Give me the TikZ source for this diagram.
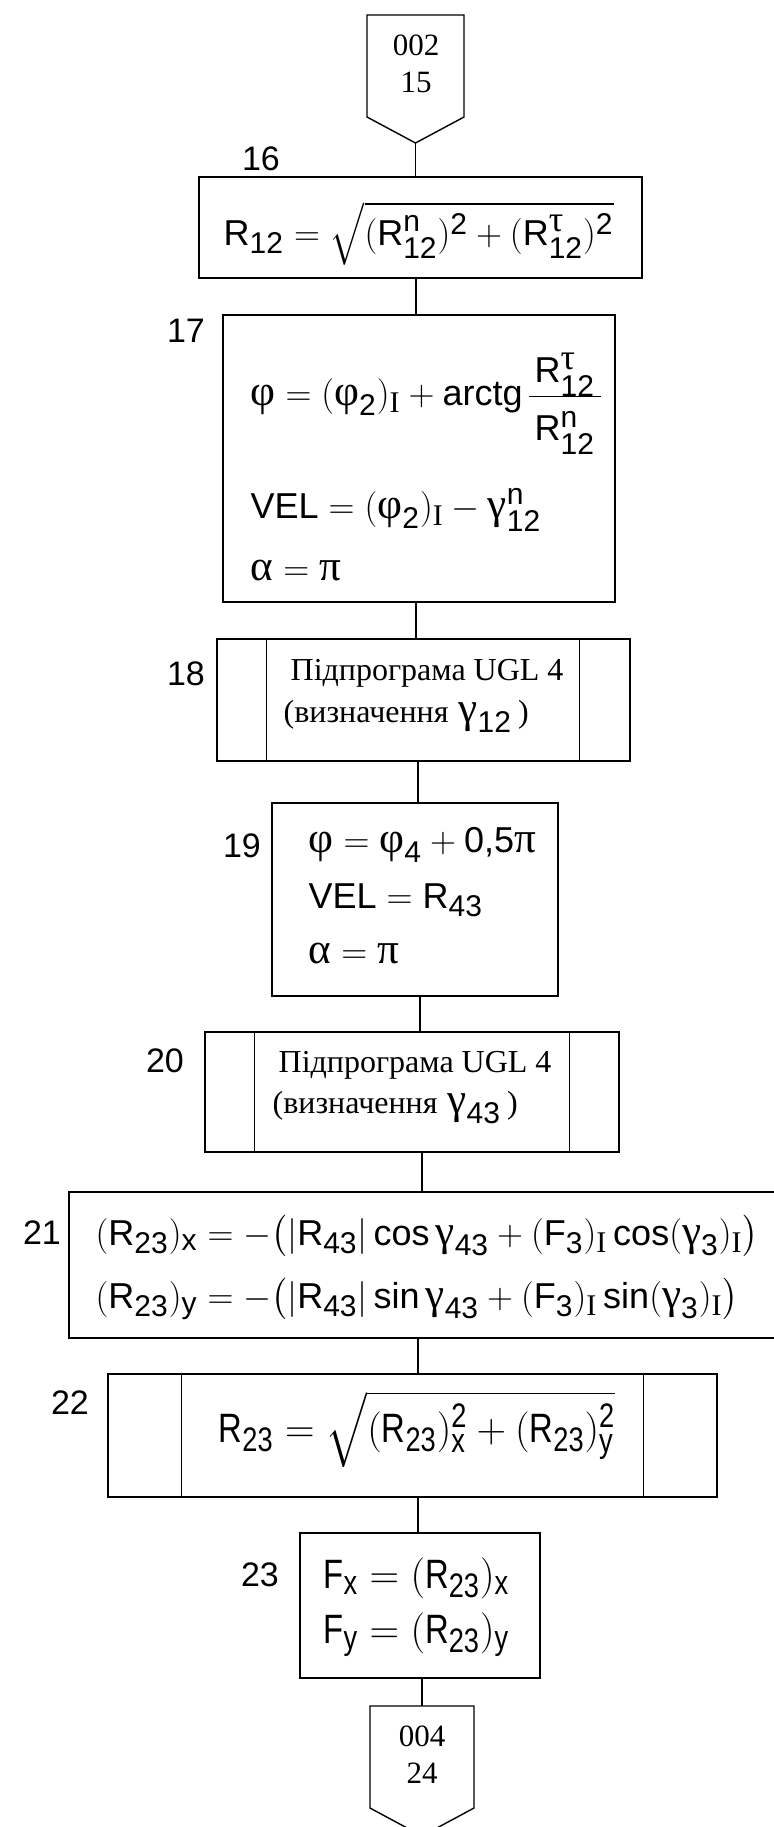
\RequirePackage{fix-cm}
\documentclass[tikz,border=0pt]{standalone}
\usepackage{amsmath}
\usepackage{fontspec}
\setmainfont{Liberation Sans}
\newfontfamily\tmfont{Liberation Serif}
\newfontfamily\grkfont{Liberation Serif}[Scale=1.2]
\newfontfamily\narrowfont{Liberation Sans}[FakeStretch=0.8]
\usetikzlibrary{calc}
\DeclareMathSizes{18}{18}{15}{12}
\DeclareMathSizes{20.5}{20.5}{17}{13.5}
\newcommand\fml{\fontsize{18}{22}\selectfont}
\newcommand\fmlbig{\fontsize{20.5}{24}\selectfont}
\newcommand\Ttx[1]{\text{#1}}
\newcommand\Grk[1]{\text{\grkfont #1}}
\newcommand\RmI{\text{\tmfont I}}
\newcommand\cyr{\tmfont\fontsize{16}{18}\selectfont}
\newcommand\lblfont{\fontsize{17}{20}\selectfont}
\newcommand\pfont{\tmfont\fontsize{15.5}{18.25}\selectfont}
\begin{document}
\begin{tikzpicture}[x=0.5pt,y=-0.5pt,line width=0.7pt,
  box/.style={draw,rectangle,inner sep=0pt,line width=0.7pt},
  lbl/.style={inner sep=0pt,font=\lblfont},
  txt/.style={anchor=base west,inner sep=0pt,font=\fml},
  ntxt/.style={anchor=base west,inner sep=0pt,font=\narrowfont\fmlbig},
  ptxt/.style={align=center,inner sep=0pt,font=\pfont}]
\useasboundingbox (0,0) rectangle (774,1827);
\clip (0,0) rectangle (774,1827);

% top off-page connector
\draw (367,15) -- (464,15) -- (464,117) -- (415.5,143) -- (367,117) -- cycle;
\coordinate (p1tip) at (415.5,143);
\node[ptxt] (p1) at (416,64) {002\\15};

% boxes
\node[box,minimum width=221.5pt,minimum height=50.5pt] (b16) at (420.5,227.5) {};
\node[box,minimum width=196pt,minimum height=143.5pt] (b17) at (419,458.5) {};
\node[box,minimum width=206.5pt,minimum height=61pt] (b18) at (423.5,700) {};
\node[box,minimum width=143pt,minimum height=96.5pt] (b19) at (415,899.5) {};
\node[box,minimum width=207pt,minimum height=60pt] (b20) at (412,1092) {};
\node[box,minimum width=365.5pt,minimum height=73pt] (b21) at (434.5,1265) {};
\node[box,minimum width=304.5pt,minimum height=61.5pt] (b22) at (412.5,1435.5) {};
\node[box,minimum width=120pt,minimum height=72.5pt] (b23) at (420,1605.5) {};

% subroutine side bars
\draw ($(b18.north west)+(50,0)$) -- ($(b18.south west)+(50,0)$);
\draw ($(b18.north east)+(-51,0)$) -- ($(b18.south east)+(-51,0)$);
\draw ($(b20.north west)+(50,0)$) -- ($(b20.south west)+(50,0)$);
\draw ($(b20.north east)+(-50,0)$) -- ($(b20.south east)+(-50,0)$);
\draw ($(b22.north west)+(74,0)$) -- ($(b22.south west)+(74,0)$);
\draw ($(b22.north east)+(-74,0)$) -- ($(b22.south east)+(-74,0)$);

% bottom off-page connector
\draw (370,1706) -- (474,1706) -- (474,1808) -- (422,1836) -- (370,1808) -- cycle;
\coordinate (p2top) at (422,1706);
\node[ptxt] (p2) at (422,1754.5) {004\\24};

% connectors
\draw (p1tip) -- (p1tip |- b16.north);
\draw (b16.south -| 416,0) -- (b17.north -| 416,0);
\draw (b17.south -| 416,0) -- (b18.north -| 416,0);
\draw (b18.south -| 418,0) -- (b19.north -| 418,0);
\draw (b19.south -| 420,0) -- (b20.north -| 420,0);
\draw (b20.south -| 422,0) -- (b21.north -| 422,0);
\draw (b21.south -| 418,0) -- (b22.north -| 418,0);
\draw (b22.south -| 418,0) -- (b23.north -| 418,0);
\draw (b23.south -| 422,0) -- (p2top);

% labels
\node[lbl] (l16) at (261,159) {16};
\node[lbl] (l17) at (186,331) {17};
\node[lbl] (l18) at (186,674) {18};
\node[lbl] (l19) at (242,846) {19};
\node[lbl] (l20) at (165,1061) {20};
\node[lbl] (l21) at (42,1233) {21};
\node[lbl] (l22) at (70,1403) {22};
\node[lbl] (l23) at (260,1575) {23};

% box 16
\node[txt] (f16) at (223,245) {$\Ttx{R}_{\Ttx{12}} = \sqrt{(\Ttx{R}^{\Ttx{n}}_{\Ttx{12}})^{\Ttx{2}} + (\Ttx{R}^{\Grk{τ}}_{\Ttx{12}})^{\Ttx{2}}}$};

% box 17
\node[txt] (f17a) at (250,405) {$\Grk{φ} = (\Grk{φ}_{\Ttx{2}})_{\RmI} + \Ttx{arctg}\,\raisebox{-3.5pt}{$\begin{array}{@{\,}c@{\,}}\Ttx{R}^{\Grk{τ}}_{\Ttx{12}}\\ \hline \rule{0pt}{22pt}\Ttx{R}^{\Ttx{n}}_{\Ttx{12}}\end{array}$}$};
\node[txt] (f17b) at (250,518) {$\Ttx{VEL} = (\Grk{φ}_{\Ttx{2}})_{\RmI} - \Grk{γ}^{\Ttx{n}}_{\Ttx{12}}$};
\node[txt] (f17c) at (250,580) {$\Grk{α} = \Grk{π}$};

% box 18
\node[txt] (t18a) at (290,680) {\cyr Підпрограма UGL 4};
\node[txt] (t18b) at (283,722) {{\cyr (визначення} $\Grk{γ}_{\Ttx{12}}$\,{\cyr )}};

% box 19
\node[txt] (f19a) at (308,852) {$\Grk{φ} = \Grk{φ}_{\Ttx{4}} + \Ttx{0,5}\Grk{π}$};
\node[txt] (f19b) at (308,908) {$\Ttx{VEL} = \Ttx{R}_{\Ttx{43}}$};
\node[txt] (f19c) at (308,963) {$\Grk{α} = \Grk{π}$};

% box 20
\node[txt] (t20a) at (278,1072) {\cyr Підпрограма UGL 4};
\node[txt] (t20b) at (272,1113) {{\cyr (визначення} $\Grk{γ}_{\Ttx{43}}$\,{\cyr )}};

% box 21
\node[txt] (f21a) at (95,1245) {$(\Ttx{R}_{\Ttx{23}})_{\Ttx{x}} = -\bigl(\lvert\Ttx{R}_{\Ttx{43}}\rvert\,\Ttx{cos}\,\Grk{γ}_{\Ttx{43}} + (\Ttx{F}_{\Ttx{3}})_{\RmI}\,\Ttx{cos}(\Grk{γ}_{\Ttx{3}})_{\RmI}\bigr)$};
\node[txt] (f21b) at (95,1308) {$(\Ttx{R}_{\Ttx{23}})_{\Ttx{y}} = -\bigl(\lvert\Ttx{R}_{\Ttx{43}}\rvert\,\Ttx{sin}\,\Grk{γ}_{\Ttx{43}} + (\Ttx{F}_{\Ttx{3}})_{\RmI}\,\Ttx{sin}(\Grk{γ}_{\Ttx{3}})_{\RmI}\bigr)$};

% box 22
\node[ntxt] (f22) at (218,1442) {$\Ttx{R}_{\Ttx{23}} = \sqrt{(\Ttx{R}_{\Ttx{23}})^{\Ttx{2}}_{\Ttx{x}} + (\Ttx{R}_{\Ttx{23}})^{\Ttx{2}}_{\Ttx{y}}}$};

% box 23
\node[ntxt] (f23a) at (323,1588) {$\Ttx{F}_{\Ttx{x}} = (\Ttx{R}_{\Ttx{23}})_{\Ttx{x}}$};
\node[ntxt] (f23b) at (323,1643) {$\Ttx{F}_{\Ttx{y}} = (\Ttx{R}_{\Ttx{23}})_{\Ttx{y}}$};
\end{tikzpicture}
\end{document}
